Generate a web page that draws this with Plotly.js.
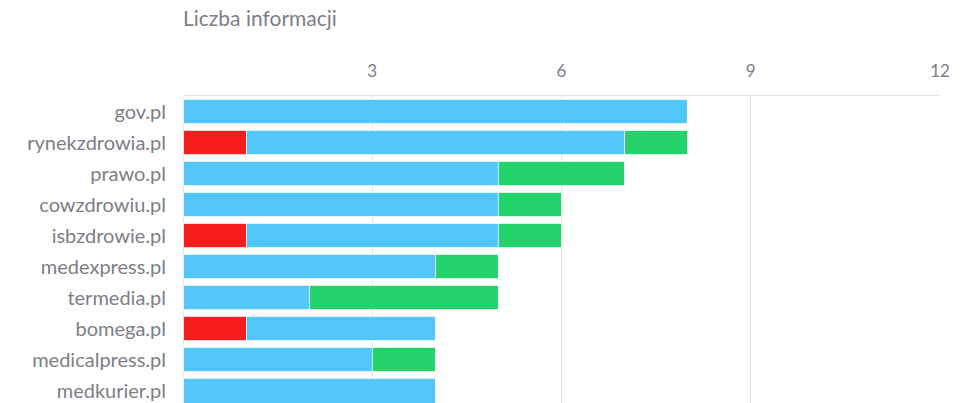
<!DOCTYPE html>
<html>
<head>
<meta charset="utf-8">
<script src="https://cdn.plot.ly/plotly-3.0.1.min.js"></script>
<style>html,body{margin:0;padding:0;background:#fff;}#chart{width:966px;height:403px;}</style>
</head>
<body>
<div id="chart"></div>
<script>
const categories = ["gov.pl","rynekzdrowia.pl","prawo.pl","cowzdrowiu.pl","isbzdrowie.pl","medexpress.pl","termedia.pl","bomega.pl","medicalpress.pl","medkurier.pl"];
const negative = [0,1,0,0,1,0,0,1,0,0];
const neutral  = [8,6,5,5,4,4,2,3,3,4];
const positive = [0,1,2,1,1,1,3,0,1,0];
const tickValues = [3,6,9,12];
const tickLabels = ["3","6","9","12"];

const font = "Lato, 'Open Sans', sans-serif";
const textColor = "#7e7e86";
function tr(name, vals, color){
  return {type:'bar', orientation:'h', name:name, y:categories, x:vals,
    marker:{color:color, line:{color:'#ffffff', width:0.8}}, hoverinfo:'x+y+name'};
}
const data = [
  tr('Negatywne', negative, '#f71f1b'),
  tr('Neutralne', neutral, '#53c6fb'),
  tr('Pozytywne', positive, '#24d36c')
];
const layout = {
  width:966, height:403,
  barmode:'stack', bargap:0.2, showlegend:false,
  margin:{l:183, r:26, t:96, b:0},
  paper_bgcolor:'#fff', plot_bgcolor:'#fff',
  font:{family:font, color:textColor, size:19},
  title:{text:'Liczba informacji', x:0, xref:'paper', xanchor:'left', y:1-19/403, yref:'container', yanchor:'middle', font:{family:font, size:21, color:textColor}},
  xaxis:{side:'top', range:[0,12], tickvals:tickValues, ticktext:tickLabels, showgrid:true, gridcolor:'#e4e4e4', gridwidth:1,
    zeroline:true, zerolinecolor:'#e4e4e4', showline:true, linecolor:'#e4e4e4', mirror:false,
    ticks:'outside', ticklen:11, tickcolor:'rgba(0,0,0,0)', tickfont:{family:font, size:17, color:textColor}, fixedrange:true},
  yaxis:{type:'category', range:[9.4,-0.5], showgrid:false, zeroline:false, showline:false,
    ticks:'outside', ticklen:12, tickcolor:'rgba(0,0,0,0)', tickfont:{family:font, size:20, color:textColor}, fixedrange:true}
};
Plotly.newPlot('chart', data, layout, {displayModeBar:false, staticPlot:true});
</script>
</body>
</html>
